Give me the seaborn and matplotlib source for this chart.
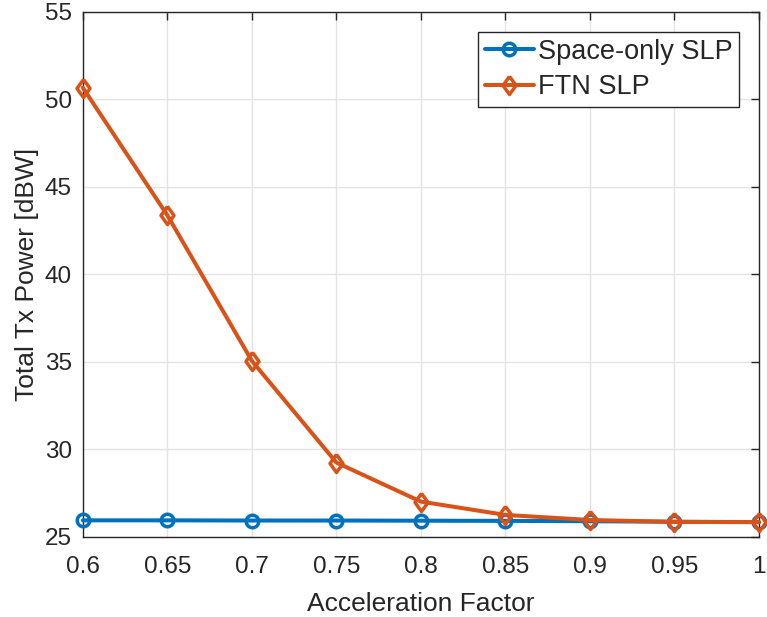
import numpy as np
import pandas as pd
import matplotlib
matplotlib.use("Agg")
import matplotlib.pyplot as plt
import seaborn as sns

accel = [0.6, 0.65, 0.7, 0.75, 0.8, 0.85, 0.9, 0.95, 1.0]
space_only = [25.95, 25.95, 25.94, 25.94, 25.93, 25.92, 25.9, 25.87, 25.85]
ftn = [50.67, 43.38, 35.06, 29.25, 27.02, 26.26, 25.97, 25.86, 25.85]
series_names = ["Space-only SLP", "FTN SLP"]
x_ticks = [0.6, 0.65, 0.7, 0.75, 0.8, 0.85, 0.9, 0.95, 1.0]
x_tick_labels = ["0.6", "0.65", "0.7", "0.75", "0.8", "0.85", "0.9", "0.95", "1"]
y_ticks = [25, 30, 35, 40, 45, 50, 55]

df = pd.DataFrame({
    "x": accel * 2,
    "y": space_only + ftn,
    "series": [series_names[0]] * len(accel) + [series_names[1]] * len(accel),
})

sns.set_style("white")
plt.rcParams["font.family"] = ["Liberation Sans", "DejaVu Sans"]

fig = plt.figure(figsize=(7.67, 6.17), dpi=100)
ax = fig.add_axes([0.108, 0.1297, 0.8816, 0.851])

colors = {"Space-only SLP": "#0072BD", "FTN SLP": "#D95319"}
diamond = [(0, 1), (0.72, 0), (0, -1), (-0.72, 0), (0, 1)]
markers = {"Space-only SLP": "o", "FTN SLP": diamond}
msizes = {"Space-only SLP": 9, "FTN SLP": 13}

for name in series_names:
    sub = df[df["series"] == name]
    sns.lineplot(data=sub, x="x", y="y", ax=ax, color=colors[name], linewidth=2.9,
                 marker=markers[name], markersize=msizes[name],
                 markerfacecolor="none", markeredgecolor=colors[name], markeredgewidth=2.5,
                 label=name, clip_on=False, zorder=3 if name == series_names[0] else 4)

ax.set_xlim(0.6, 1.0)
ax.set_ylim(25, 55)
ax.set_xticks(x_ticks)
ax.set_xticklabels(x_tick_labels)
ax.set_yticks(y_ticks)
ax.grid(True, color="#E3E3E3", linewidth=1.0)
ax.set_axisbelow(True)
for s in ax.spines.values():
    s.set_color("#262626")
    s.set_linewidth(1.0)
ax.tick_params(direction="in", length=6, width=1.0, colors="#262626", labelsize=17.5,
               top=True, right=True)
ax.tick_params(axis="x", pad=14)
ax.tick_params(axis="y", pad=8)
ax.set_xlabel("Acceleration Factor", fontsize=19, color="#262626", labelpad=10)
ax.set_ylabel("Total Tx Power [dBW]", fontsize=19, color="#262626", labelpad=4)

leg = ax.legend(loc="upper right", bbox_to_anchor=(0.9704, 0.962), fontsize=19.5,
                frameon=True, fancybox=False, edgecolor="#262626", framealpha=1,
                handlelength=1.8, handletextpad=0.15, borderpad=0.25, labelspacing=0.35,
                borderaxespad=0)
leg.get_frame().set_linewidth(1.0)

fig.savefig("out.png", dpi=100)
